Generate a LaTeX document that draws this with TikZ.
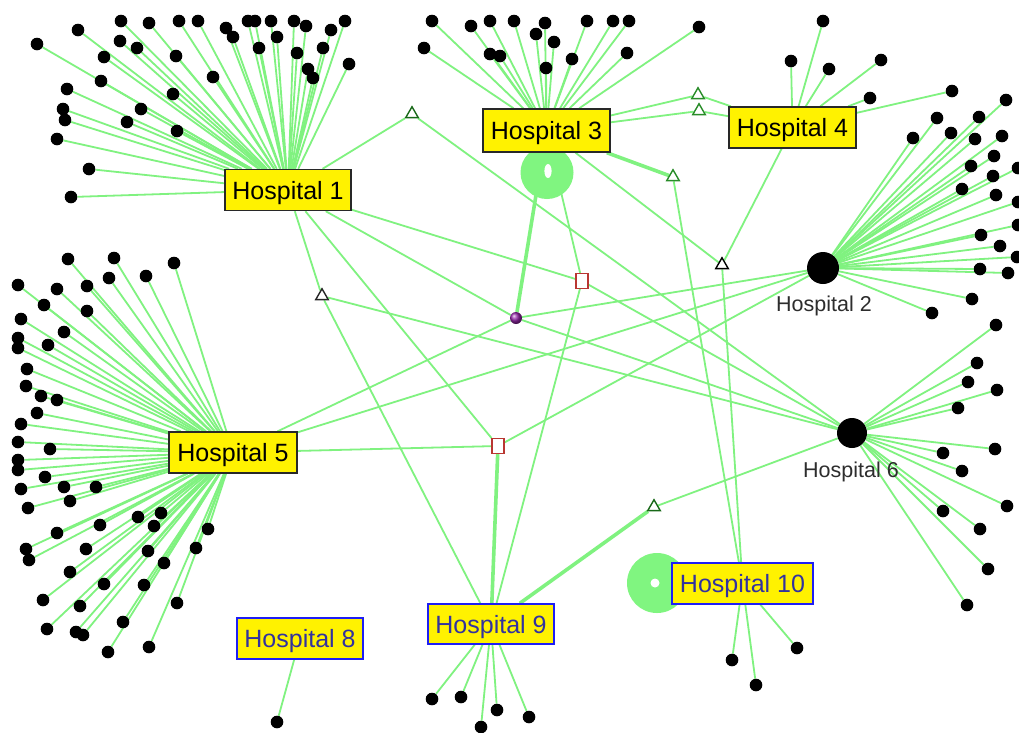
\documentclass[tikz,border=0pt]{standalone}
\usepackage{fontspec}
\setmainfont{Liberation Sans}
\usetikzlibrary{shapes.geometric}
\pgfdeclarelayer{backdrop}
\pgfdeclarelayer{edges}
\pgfdeclarelayer{loops}
\pgfsetlayers{backdrop,edges,loops,main}
\definecolor{edgegreen}{RGB}{128,242,128}
\definecolor{loopgreen}{RGB}{128,245,128}
\definecolor{boxdark}{RGB}{40,40,40}
\definecolor{boxblue}{RGB}{30,30,245}
\definecolor{txtblue}{RGB}{50,50,160}
\definecolor{trigreen}{RGB}{40,140,40}
\definecolor{tridark}{RGB}{25,105,25}
\definecolor{sqred}{RGB}{185,55,50}
\definecolor{labgray}{RGB}{45,45,45}
\definecolor{ballpurple}{RGB}{150,40,170}

% one hub with its fan of leaf nodes
\newcommand\leafset[2]{%
  \foreach \p [count=\i] in {#2}{%
    \node[leaf] (#1-\i) at \p {};
    \begin{pgfonlayer}{edges}\draw[edge] (#1) -- (#1-\i);\end{pgfonlayer}
  }}

\begin{document}
\begin{tikzpicture}[x=1pt,y=-1pt,
  edge/.style={draw=edgegreen,line width=1.8},
  heavyedge/.style={draw=edgegreen,line width=3.6},
  leaf/.style={circle,fill=black,inner sep=0,minimum size=12.6},
  hubdot/.style={circle,fill=black,inner sep=0},
  hosp/.style={draw=boxdark,line width=1.4,fill=yellow,inner sep=0,
    minimum height=41,text height=18,text depth=0,
    font=\fontsize{25}{25}\selectfont},
  hospblue/.style={hosp,draw=boxblue,text=txtblue},
  hublabel/.style={inner sep=0,text=labgray,text height=15.5,text depth=0,
    font=\fontsize{21.5}{21.5}\selectfont},
  tri/.style={regular polygon,regular polygon sides=3,minimum size=14.5,
    inner sep=0,fill=white,line width=1.4},
  sq/.style={rectangle,draw=sqred,fill=white,line width=1.4,inner sep=0,
    minimum width=12,minimum height=14.5},
  purpleball/.style={circle,shading=ball,ball color=ballpurple,inner sep=0,
    minimum size=12}]

\begin{pgfonlayer}{backdrop}
  \fill[white] (0,0) rectangle (1019,732);
\end{pgfonlayer}
\useasboundingbox (0,0) rectangle (1019,732);

% hospitals
\node[hosp,minimum width=126] (H1) at (288,190) {Hospital 1};
\node[hosp,minimum width=127,minimum height=43] (H3) at (546.5,130.5) {Hospital 3};
\node[hosp,minimum width=127] (H4) at (792.5,127.5) {Hospital 4};
\node[hosp,minimum width=128] (H5) at (233,452.5) {Hospital 5};
\node[hospblue,minimum width=126] (H8) at (300,638.5) {Hospital 8};
\node[hospblue,minimum width=126,minimum height=40] (H9) at (491,624) {Hospital 9};
\node[hospblue,minimum width=141] (H10) at (742.5,583.5) {Hospital 10};
\node[hubdot,minimum size=32] (H2) at (823,268) {};
\node[hublabel] (H2lab) at (824,304) {Hospital 2};
\node[hubdot,minimum size=30] (H6) at (852,433) {};
\node[hublabel] (H6lab) at (851,470) {Hospital 6};

% self loops
\begin{pgfonlayer}{loops}
  \fill[loopgreen] (547,172.5) circle (26.5);
  \fill[white] (548,171) ellipse (3.6 and 7);
  \fill[loopgreen] (657,583) circle (30);
  \fill[white] (655,583) circle (4.5);
\end{pgfonlayer}

% shared intermediate nodes
\node[tri,draw=tridark] (tA) at (412,114) {};
\node[tri,draw=trigreen] (tB) at (698,95) {};
\node[tri,draw=trigreen] (tC) at (699,111) {};
\node[tri,draw=trigreen] (tD) at (673,177) {};
\node[tri,draw=black] (tE) at (722,265) {};
\node[tri,draw=black!85] (tF) at (322,296) {};
\node[tri,draw=tridark] (tG) at (654,507) {};
\node[sq] (sq1) at (582,281) {};
\node[sq] (sq2) at (498,446) {};
\node[purpleball] (ball) at (516,318) {};

\begin{pgfonlayer}{edges}
  \draw[edge] (H1) -- (tA);
  \draw[edge] (tA) -- (H6);
  \draw[edge] (H1) -- (sq1);
  \draw[edge] (sq1) -- (H6);
  \draw[edge] (sq1) -- (H9);
  \draw[edge] (H3) -- (sq1);
  \draw[heavyedge] (H3) -- (ball);
  \draw[edge] (H1) -- (ball);
  \draw[edge] (ball) -- (H6);
  \draw[edge] (ball) -- (H2);
  \draw[edge] (ball) -- (H5);
  \draw[edge] (H5) -- (H2);
  \draw[edge] (H5) -- (sq2);
  \draw[edge] (sq2) -- (H2);
  \draw[heavyedge] (sq2) -- (H9);
  \draw[edge] (H1) -- (sq2);
  \draw[edge] (H1) -- (tF);
  \draw[edge] (tF) -- (H9);
  \draw[edge] (tF) -- (H6);
  \draw[heavyedge] (H9) -- (tG);
  \draw[edge] (tG) -- (H6);
  \draw[heavyedge] (H3) -- (tD);
  \draw[edge] (tD) -- (H10);
  \draw[edge] (H3) -- (tE);
  \draw[edge] (tE) -- (H4);
  \draw[edge] (tE) -- (H10);
  \draw[edge] (H3) -- (tB);
  \draw[edge] (tB) -- (H4);
  \draw[edge] (H3) -- (tC);
  \draw[edge] (tC) -- (H4);
\end{pgfonlayer}

% leaf fans
\leafset{H1}{(121,21),(149,23),(179,21),(198,21),(226,28),(233,37),(248,21),(255,21),
  (271,21),(294,21),(306,26),(331,30),(345,21),(78,30),(37,44),(120,41),(137,48),
  (104,57),(176,56),(213,77),(259,48),(277,37),(297,53),(323,48),(308,69),(313,78),
  (349,64),(101,81),(67,89),(173,94),(63,109),(65,120),(141,109),(127,122),(177,131),
  (57,139),(89,169),(71,197)}
\leafset{H3}{(432,21),(471,26),(490,21),(514,21),(545,23),(536,34),(554,42),(587,21),
  (613,21),(629,21),(699,27),(424,48),(490,54),(500,56),(546,68),(572,59),(627,53)}
\leafset{H4}{(823,21),(791,61),(829,69),(881,60),(870,98),(952,91)}
\leafset{H2}{(1006,100),(937,118),(979,117),(913,138),(951,133),(975,139),(1002,136),
  (994,156),(971,166),(993,176),(1018,168),(962,189),(996,195),(1018,202),(1018,225),
  (981,235),(1000,246),(1017,257),(980,269),(1008,273),(972,299),(932,313)}
\leafset{H6}{(996,325),(977,363),(968,382),(997,390),(958,408),(995,449),(943,453),
  (962,471),(1007,506),(943,511),(980,529),(988,569),(967,605)}
\leafset{H5}{(68,259),(114,258),(174,263),(146,276),(109,278),(18,285),(57,289),(87,286),
  (44,305),(87,311),(21,319),(64,332),(18,338),(18,348),(48,345),(27,369),(26,386),
  (41,396),(57,400),(37,413),(21,424),(18,442),(50,449),(18,460),(18,470),(45,477),
  (64,487),(96,487),(21,489),(70,501),(28,508),(138,517),(161,513),(154,526),(100,525),
  (57,533),(208,529),(196,548),(26,549),(29,560),(86,549),(148,551),(164,563),(70,572),
  (104,584),(144,585),(43,600),(80,606),(177,603),(123,622),(47,629),(76,632),(83,635),
  (108,652),(149,647)}
\leafset{H9}{(432,699),(461,697),(481,727),(497,710),(529,717)}
\leafset{H10}{(732,660),(756,685),(797,648)}
\leafset{H8}{(277,722)}

\end{tikzpicture}
\end{document}
